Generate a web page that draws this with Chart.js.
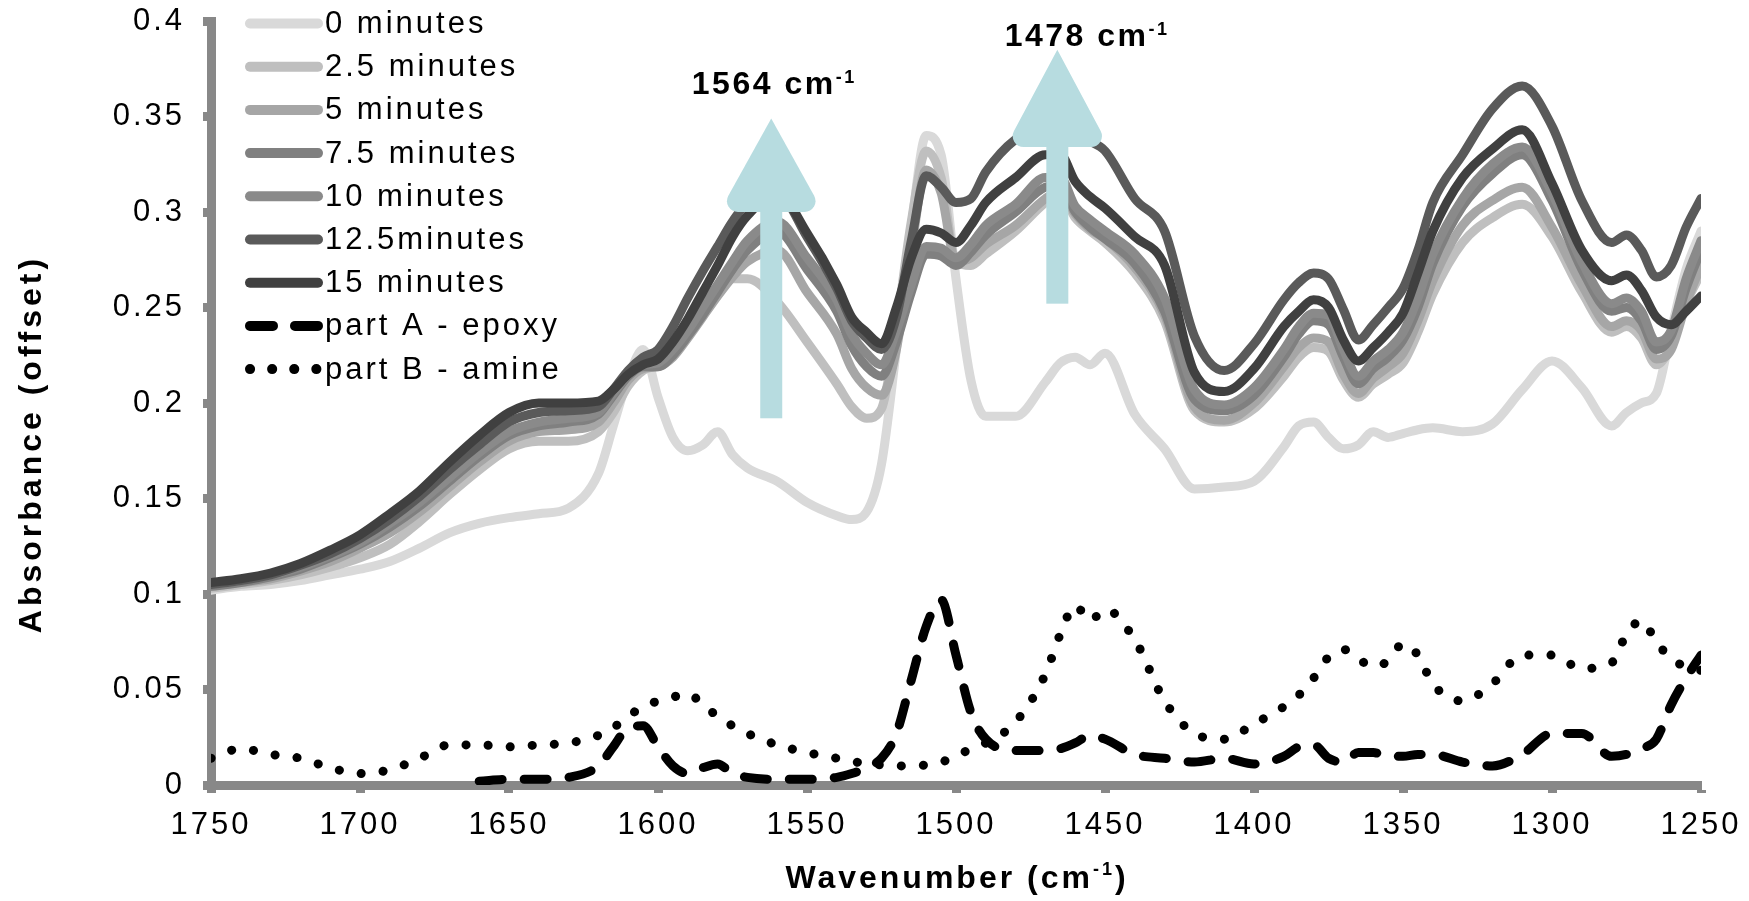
<!DOCTYPE html>
<html>
<head>
<meta charset="utf-8">
<script src="https://cdn.jsdelivr.net/npm/chart.js@4.4.1/dist/chart.umd.min.js"></script>
<style>
  html, body { margin: 0; padding: 0; background: #fff; }
  #wrap { width: 1749px; height: 901px; position: relative; }
</style>
</head>
<body>
<div id="wrap"><canvas id="ftir"></canvas></div>
<script>
// wavenumber grid (cm-1), shared by every spectrum
const wavenumbers = [
  1750, 1740, 1730, 1720, 1710, 1700, 1690, 1680, 1670, 1660,
  1650, 1640, 1630, 1620, 1615, 1610, 1605, 1600, 1595, 1590,
  1585, 1580, 1575, 1570, 1560, 1550, 1540, 1535, 1530, 1525,
  1520, 1515, 1510, 1505, 1500, 1495, 1490, 1480, 1470, 1465,
  1460, 1455, 1450, 1440, 1430, 1420, 1410, 1400, 1390, 1385,
  1380, 1375, 1370, 1365, 1360, 1355, 1350, 1345, 1340, 1330,
  1320, 1310, 1300, 1290, 1280, 1275, 1270, 1265, 1260, 1255,
  1250
];

const min0 = [
  0.102, 0.104, 0.105, 0.107, 0.110, 0.113, 0.117, 0.124, 0.132, 0.137,
  0.140, 0.142, 0.145, 0.163, 0.188, 0.213, 0.228, 0.203, 0.182, 0.175,
  0.178, 0.185, 0.173, 0.166, 0.159, 0.148, 0.141, 0.139, 0.143, 0.168,
  0.228, 0.292, 0.340, 0.330, 0.265, 0.212, 0.193, 0.193, 0.211, 0.221,
  0.224, 0.220, 0.226, 0.194, 0.176, 0.155, 0.156, 0.159, 0.177, 0.188,
  0.190, 0.182, 0.176, 0.178, 0.185, 0.182, 0.184, 0.186, 0.187, 0.185,
  0.189, 0.207, 0.222, 0.208, 0.188, 0.195, 0.200, 0.205, 0.238, 0.270,
  0.290
];
const min2_5 = [
  0.103, 0.105, 0.107, 0.110, 0.114, 0.119, 0.126, 0.138, 0.152, 0.165,
  0.176, 0.180, 0.180, 0.185, 0.195, 0.209, 0.217, 0.220, 0.227, 0.238,
  0.252, 0.261, 0.265, 0.265, 0.253, 0.232, 0.210, 0.198, 0.192, 0.197,
  0.240, 0.295, 0.332, 0.318, 0.274, 0.272, 0.278, 0.290, 0.305, 0.310,
  0.297, 0.290, 0.284, 0.268, 0.243, 0.196, 0.190, 0.197, 0.214, 0.224,
  0.229, 0.227, 0.212, 0.203, 0.210, 0.215, 0.221, 0.237, 0.257, 0.284,
  0.297, 0.304, 0.287, 0.258, 0.237, 0.240, 0.234, 0.220, 0.230, 0.252,
  0.268
];
const min5 = [
  0.104, 0.106, 0.108, 0.112, 0.117, 0.124, 0.132, 0.143, 0.156, 0.169,
  0.180, 0.185, 0.186, 0.190, 0.200, 0.212, 0.218, 0.219, 0.224, 0.234,
  0.245, 0.256, 0.266, 0.274, 0.280, 0.258, 0.236, 0.218, 0.208, 0.204,
  0.228, 0.280, 0.322, 0.310, 0.274, 0.276, 0.283, 0.293, 0.307, 0.311,
  0.299, 0.291, 0.286, 0.271, 0.246, 0.198, 0.191, 0.200, 0.219, 0.229,
  0.234, 0.232, 0.215, 0.205, 0.213, 0.219, 0.226, 0.243, 0.264, 0.293,
  0.306, 0.313, 0.292, 0.262, 0.240, 0.243, 0.238, 0.223, 0.228, 0.252,
  0.272
];
const min7_5 = [
  0.104, 0.106, 0.109, 0.113, 0.119, 0.126, 0.135, 0.146, 0.159, 0.172,
  0.183, 0.188, 0.190, 0.194, 0.204, 0.214, 0.219, 0.219, 0.225, 0.235,
  0.246, 0.258, 0.270, 0.280, 0.290, 0.270, 0.248, 0.230, 0.219, 0.214,
  0.232, 0.258, 0.278, 0.277, 0.272, 0.279, 0.288, 0.300, 0.313, 0.314,
  0.300, 0.292, 0.286, 0.273, 0.248, 0.202, 0.196, 0.204, 0.224, 0.236,
  0.243, 0.241, 0.224, 0.210, 0.218, 0.224, 0.233, 0.250, 0.273, 0.303,
  0.320, 0.330, 0.306, 0.270, 0.248, 0.250, 0.243, 0.228, 0.235, 0.260,
  0.280
];
const min10 = [
  0.105, 0.107, 0.110, 0.114, 0.120, 0.127, 0.137, 0.148, 0.161, 0.174,
  0.185, 0.190, 0.192, 0.195, 0.205, 0.215, 0.220, 0.221, 0.228, 0.238,
  0.250, 0.262, 0.274, 0.285, 0.295, 0.276, 0.254, 0.236, 0.226, 0.220,
  0.238, 0.262, 0.282, 0.281, 0.276, 0.283, 0.293, 0.304, 0.318, 0.318,
  0.303, 0.296, 0.290, 0.278, 0.255, 0.207, 0.199, 0.208, 0.228, 0.240,
  0.247, 0.246, 0.228, 0.214, 0.222, 0.228, 0.237, 0.255, 0.278, 0.307,
  0.325, 0.334, 0.310, 0.274, 0.252, 0.255, 0.248, 0.232, 0.238, 0.265,
  0.285
];
const min12_5 = [
  0.105, 0.107, 0.110, 0.115, 0.121, 0.129, 0.139, 0.151, 0.165, 0.178,
  0.190, 0.195, 0.196, 0.198, 0.207, 0.217, 0.224, 0.228, 0.240, 0.255,
  0.269, 0.282, 0.295, 0.305, 0.310, 0.287, 0.260, 0.243, 0.234, 0.228,
  0.245, 0.285, 0.319, 0.313, 0.305, 0.307, 0.321, 0.338, 0.345, 0.344,
  0.340, 0.337, 0.332, 0.307, 0.290, 0.235, 0.217, 0.231, 0.254, 0.263,
  0.268, 0.265, 0.249, 0.233, 0.241, 0.250, 0.260, 0.280, 0.305, 0.330,
  0.354, 0.366, 0.345, 0.306, 0.284, 0.288, 0.280, 0.266, 0.272, 0.292,
  0.307
];
const min15 = [
  0.106, 0.108, 0.111, 0.116, 0.123, 0.131, 0.142, 0.154, 0.169, 0.183,
  0.195, 0.200, 0.200, 0.201, 0.207, 0.215, 0.220, 0.223, 0.232, 0.244,
  0.258, 0.272, 0.287, 0.298, 0.310, 0.289, 0.262, 0.245, 0.237, 0.231,
  0.250, 0.276, 0.291, 0.289, 0.284, 0.293, 0.305, 0.318, 0.330, 0.330,
  0.316, 0.308, 0.302, 0.287, 0.272, 0.216, 0.206, 0.218, 0.240, 0.248,
  0.254, 0.250, 0.233, 0.222, 0.229, 0.237, 0.247, 0.268, 0.290, 0.318,
  0.333, 0.343, 0.315, 0.280, 0.264, 0.267, 0.259, 0.245, 0.241, 0.248,
  0.256
];
const partA = [
  null, null, null, null, null, null, null, null, null, 0.002,
  0.003, 0.003, 0.004, 0.010, 0.020, 0.030, 0.031, 0.020, 0.010, 0.006,
  0.009, 0.011, 0.006, 0.004, 0.003, 0.003, 0.004, 0.006, 0.009, 0.014,
  0.027, 0.055, 0.083, 0.097, 0.068, 0.038, 0.024, 0.018, 0.018, 0.019,
  0.022, 0.026, 0.024, 0.016, 0.014, 0.012, 0.014, 0.011, 0.015, 0.020,
  0.021, 0.014, 0.012, 0.017, 0.017, 0.015, 0.015, 0.016, 0.016, 0.012,
  0.010, 0.016, 0.027, 0.027, 0.015, 0.016, 0.019, 0.024, 0.042, 0.056,
  0.068
];
const partB = [
  0.014, 0.019, 0.016, 0.014, 0.009, 0.006, 0.008, 0.014, 0.021, 0.021,
  0.020, 0.021, 0.022, 0.026, 0.030, 0.036, 0.041, 0.044, 0.046, 0.048,
  0.042, 0.036, 0.031, 0.027, 0.021, 0.017, 0.014, 0.0125, 0.011, 0.0105,
  0.010, 0.010, 0.0105, 0.012, 0.015, 0.019, 0.022, 0.033, 0.058, 0.079,
  0.094, 0.086, 0.092, 0.076, 0.044, 0.027, 0.024, 0.032, 0.041, 0.047,
  0.056, 0.067, 0.071, 0.066, 0.062, 0.065, 0.074, 0.068, 0.053, 0.044,
  0.053, 0.068, 0.068, 0.061, 0.064, 0.079, 0.086, 0.075, 0.066, 0.062,
  0.060
];

const seriesLabels = ['0 minutes', '2.5 minutes', '5 minutes', '7.5 minutes', '10 minutes',
  '12.5minutes', '15 minutes', 'part A - epoxy', 'part B - amine'];
const seriesValues = [min0, min2_5, min5, min7_5, min10, min12_5, min15, partA, partB];
const seriesColors = ['#d9d9d9', '#bfbfbf', '#a6a6a6', '#808080', '#8a8a8a', '#5a5a5a', '#404040', '#000000', '#000000'];
const seriesDash = [[], [], [], [], [], [], [], [23, 22], [0.1, 22]];

const yTicks = [0, 0.05, 0.1, 0.15, 0.2, 0.25, 0.3, 0.35, 0.4];

// peak markers: arrow position, arrow extent and label
const peakMarks = [
  { label: '1564', wn: 1562, from: 0.192, base: 0.300, tip: 0.349, textWn: 1561, textY: 0.362 },
  { label: '1478', wn: 1466, from: 0.252, base: 0.334, tip: 0.385, textWn: 1456, textY: 0.387 }
];

const axisGrey = '#888888';
const arrowColor = '#b7dce0';
const fontFamily = "'Liberation Sans', Arial, sans-serif";
Chart.defaults.font.family = fontFamily;

const datasets = seriesValues.map((vals, i) => ({
  label: seriesLabels[i],
  data: wavenumbers.map((w, j) => ({ x: w, y: vals[j] })),
  borderColor: seriesColors[i],
  borderWidth: 9,
  borderDash: seriesDash[i],
  borderCapStyle: 'round',
  borderJoinStyle: 'round',
  pointRadius: 0,
  fill: false,
  spanGaps: false,
  order: seriesValues.length - 1 - i
}));

const spacing = {
  id: 'spacing',
  beforeUpdate(chart) { chart.ctx.letterSpacing = '3px'; },
  beforeDraw(chart) { chart.ctx.letterSpacing = '3px'; }
};

// draws "main" + raised "sup" (+ optional tail) centred on cx
function textWithSup(ctx, main, sup, tail, cx, baseline, size, supSize, lift) {
  const big = 'bold ' + size + 'px ' + fontFamily;
  const small = 'bold ' + supSize + 'px ' + fontFamily;
  ctx.font = big;
  const w1 = ctx.measureText(main).width;
  const w3 = tail ? ctx.measureText(tail).width : 0;
  ctx.font = small;
  const w2 = ctx.measureText(sup).width;
  const x = cx - (w1 + w2 + w3) / 2;
  ctx.textAlign = 'left';
  ctx.textBaseline = 'alphabetic';
  ctx.font = big;
  ctx.fillText(main, x, baseline);
  if (tail) ctx.fillText(tail, x + w1 + w2, baseline);
  ctx.font = small;
  ctx.fillText(sup, x + w1, baseline - lift);
}

const overlay = {
  id: 'overlay',
  afterDraw(chart) {
    const { ctx, chartArea } = chart;
    const xs = chart.scales.x, ys = chart.scales.y;
    ctx.save();
    ctx.letterSpacing = '3px';

    // arrows + labels
    peakMarks.forEach(m => {
      const px = xs.getPixelForValue(m.wn);
      const pFrom = ys.getPixelForValue(m.from);
      const pBase = ys.getPixelForValue(m.base);
      const pTip = ys.getPixelForValue(m.tip);
      const hw = 52, r = 11;
      ctx.fillStyle = arrowColor;
      ctx.fillRect(px - 11, pBase - 6, 22, pFrom - pBase + 6);
      ctx.beginPath();
      ctx.moveTo(px, pTip);
      ctx.arcTo(px + hw, pBase, px - hw, pBase, r);
      ctx.arcTo(px - hw, pBase, px, pTip, r);
      ctx.closePath();
      ctx.fill();

      ctx.fillStyle = '#000';
      ctx.letterSpacing = '2.5px';
      textWithSup(ctx, m.label + ' cm', '-1', '', xs.getPixelForValue(m.textWn), ys.getPixelForValue(m.textY), 32, 18, 11);
      ctx.letterSpacing = '3px';
    });

    // legend
    const lx = chartArea.left + 34;
    chart.data.datasets.forEach((ds, i) => {
      const yy = chartArea.top + 2.5 + i * 43.2;
      ctx.save();
      ctx.strokeStyle = ds.borderColor;
      ctx.lineWidth = 10;
      ctx.lineCap = 'round';
      ctx.setLineDash(ds.borderDash);
      ctx.beginPath();
      ctx.moveTo(lx + 5, yy);
      ctx.lineTo(lx + 73, yy);
      ctx.stroke();
      ctx.restore();
      ctx.fillStyle = '#000';
      ctx.font = '31px ' + fontFamily;
      ctx.textAlign = 'left';
      ctx.textBaseline = 'middle';
      ctx.fillText(ds.label, lx + 80, yy + 1);
    });

    // axis titles
    ctx.fillStyle = '#000';
    ctx.letterSpacing = '3px';
    textWithSup(ctx, 'Wavenumber (cm', '-1', ')', 957, 888, 32, 18, 13);

    ctx.translate(41, 444);
    ctx.rotate(-Math.PI / 2);
    ctx.font = 'bold 32px ' + fontFamily;
    ctx.textAlign = 'center';
    ctx.textBaseline = 'alphabetic';
    ctx.letterSpacing = '4px';
    ctx.fillText('Absorbance (offset)', 0, 0);
    ctx.restore();
  }
};

new Chart(document.getElementById('ftir'), {
  type: 'line',
  data: { datasets },
  options: {
    responsive: true,
    maintainAspectRatio: false,
    animation: false,
    layout: { padding: { left: 0, right: 48, top: 21, bottom: 0 } },
    elements: { line: { cubicInterpolationMode: 'monotone' }, point: { radius: 0 } },
    plugins: { legend: { display: false }, tooltip: { enabled: false } },
    scales: {
      x: {
        type: 'linear',
        reverse: true,
        min: 1250,
        max: 1750,
        z: 1,
        ticks: {
          stepSize: 50,
          color: '#000',
          font: { size: 31 },
          padding: 14,
          maxRotation: 0,
          autoSkip: false,
          callback: v => String(v)
        },
        grid: { drawOnChartArea: false, tickLength: 8, tickWidth: 9, tickColor: axisGrey },
        border: { color: axisGrey, width: 9 },
        afterFit: s => { s.height = 116; s.paddingLeft = 0; s.paddingRight = 0; }
      },
      y: {
        min: 0,
        max: 0.4,
        z: 1,
        afterBuildTicks: s => { s.ticks = yTicks.map(v => ({ value: v })); },
        ticks: {
          color: '#000',
          font: { size: 31 },
          padding: 18,
          callback: v => String(+v.toFixed(2))
        },
        grid: { drawOnChartArea: false, tickLength: 8, tickWidth: 9, tickColor: axisGrey },
        border: { color: axisGrey, width: 9 },
        // keep the plot area edges fixed: no extra room for the end labels
        afterFit: s => { s.width = 211; s.paddingTop = 0; s.paddingBottom = 0; }
      }
    }
  },
  plugins: [spacing, overlay]
});
</script>
</body>
</html>
